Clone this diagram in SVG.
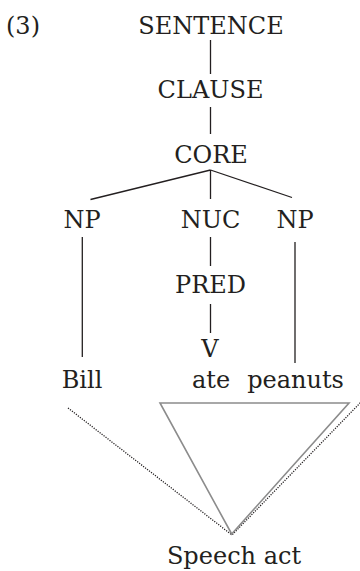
<svg xmlns="http://www.w3.org/2000/svg" width="360" height="571" viewBox="0 0 360 571">
  <style>
    text { font-family: "DejaVu Serif", "Liberation Serif", serif; font-size: 24px; fill: #231f20; text-anchor: middle; }
    .edge { stroke: #231f20; stroke-width: 1.3; fill: none; }
    .dot { stroke: #231f20; stroke-width: 1.3; stroke-dasharray: 1.2 1.3; fill: none; }
    .tri { stroke: #8c8c8c; stroke-width: 1.6; fill: none; stroke-linejoin: miter; }
  </style>
  <rect width="360" height="571" fill="#ffffff"/>

  <text x="23" y="34">(3)</text>

  <!-- tree branches -->
  <g id="connectors">
    <line class="edge" x1="210.5" y1="40" x2="210.5" y2="74"/>
    <line class="edge" x1="210.5" y1="107" x2="210.5" y2="134"/>
    <line class="edge" x1="210.5" y1="170" x2="90.5" y2="199.5"/>
    <line class="edge" x1="210.5" y1="170" x2="210.5" y2="199"/>
    <line class="edge" x1="210.5" y1="170" x2="292" y2="197.5"/>
    <line class="edge" x1="82.3" y1="237" x2="82.3" y2="357"/>
    <line class="edge" x1="210.5" y1="237" x2="210.5" y2="266"/>
    <line class="edge" x1="210.5" y1="304" x2="210.5" y2="333"/>
    <line class="edge" x1="295" y1="242" x2="295" y2="363"/>
    <!-- speech act scope -->
    <line class="dot" x1="68" y1="408" x2="232" y2="535"/>
    <line class="dot" x1="362" y1="401" x2="232" y2="535"/>
    <polygon class="tri" points="160,403 349,403 231.7,534"/>
  </g>

  <g id="sentence"><text x="211" y="34">SENTENCE</text></g>
  <g id="clause"><text x="210.5" y="98">CLAUSE</text></g>
  <g id="core"><text x="211" y="163">CORE</text></g>
  <g id="np1"><text x="82" y="228">NP</text></g>
  <g id="nuc"><text x="210.5" y="228">NUC</text></g>
  <g id="np2"><text x="295" y="228">NP</text></g>
  <g id="pred"><text x="210.5" y="293">PRED</text></g>
  <g id="v"><text x="210" y="357">V</text></g>
  <g id="bill"><text x="82" y="388">Bill</text></g>
  <g id="ate"><text x="211" y="388">ate</text></g>
  <g id="peanuts"><text x="295.5" y="388">peanuts</text></g>
  <g id="speech-act"><text x="234" y="564">Speech act</text></g>
</svg>
